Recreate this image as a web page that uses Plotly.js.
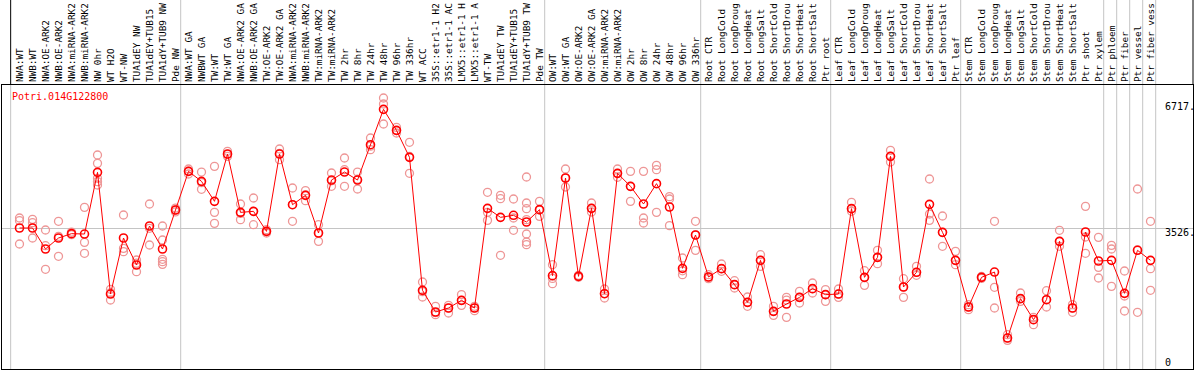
<!DOCTYPE html>
<html>
<head>
<meta charset="utf-8">
<script src="https://cdn.plot.ly/plotly-3.0.1.min.js"></script>
<style>
html,body{margin:0;padding:0;background:#fff;}
#chart{width:1194px;height:370px;}
</style>
</head>
<body>
<div id="chart"></div>
<script>
const geneName = "Potri.014G122800";

const categories = [
"NWA:WT","NWB:WT","NWA:OE-ARK2","NWB:OE-ARK2","NWA:miRNA-ARK2","NWB:miRNA-ARK2","NW 0hr","WT H2O","WT-NW","TUA1dEY NW","TUA1dEY+TUB15","TUA1dY+TUB9 NW","Pde NW",
"NWA:WT GA","NWBWT GA","TW:WT","TW:WT GA","NWA:OE-ARK2 GA","NWB:OE-ARK2 GA","TW:OE-ARK2","TW:OE-ARK2 GA","NWA:miRNA-ARK2","NWB:miRNA-ARK2","TW:miRNA-ARK2","TW:miRNA-ARK2",
"TW 2hr","TW 8hr","TW 24hr","TW 48hr","TW 96hr","TW 336hr","WT ACC","35S::etr1-1 H2","35S::etr1-1 AC","LMX5::etr1-1 H","LMX5::etr1-1 A","WT-TW","TUA1dEY TW","TUA1dEY+TUB15","TUA1dY+TUB9 TW","Pde TW",
"OW:WT","OW:WT GA","OW:OE-ARK2","OW:OE-ARK2 GA","OW:miRNA-ARK2","OW:miRNA-ARK2","OW 2hr","OW 8hr","OW 24hr","OW 48hr","OW 96hr","OW 336hr",
"Root CTR","Root LongCold","Root LongDroug","Root LongHeat","Root LongSalt","Root ShortCold","Root ShortDrou","Root ShortHeat","Root ShortSalt","Ptr root",
"Leaf CTR","Leaf LongCold","Leaf LongDroug","Leaf LongHeat","Leaf LongSalt","Leaf ShortCold","Leaf ShortDrou","Leaf ShortHeat","Leaf ShortSalt","Ptr leaf",
"Stem CTR","Stem LongCold","Stem LongDroug","Stem LongHeat","Stem LongSalt","Stem ShortCold","Stem ShortDrou","Stem ShortHeat","Stem ShortSalt","Ptr shoot","Ptr xylem",
"Ptr phloem","Ptr fiber","Ptr vessel","Ptr fiber vess"
];

const means = [
3526,3526,2974,3263,3377,3368,4991,1789,3263,2553,3579,2974,4000,
5017,4754,4228,5474,3938,3965,3438,5474,4140,4386,3395,4789,4999,4789,5719,6649,6096,5386,1886,1316,1421,1623,1421,4044,3807,3860,3684,4009,
2272,4842,2254,4044,1798,4965,4623,4158,4693,4079,2465,3342,
2237,2456,2035,1570,2675,1333,1526,1701,1930,1772,
1789,4035,2228,2754,5412,1974,2360,4149,3412,2675,
1447,2228,2368,631,1667,1114,1640,3175,1421,3421,2658,
2675,1807,2939,2675
];

const replicates = [
[3789,3718,3105],[3754,3666,3263],[3474,3061,2439],[3702,3305,2781],[3420,3360,3350],[4070,3149,2860],
[5447,5228,4834,4746,4658],[1913,1820,1632],[3868,2991,2904],[2684,2600,2377],[4158,3518,3079],
[3579,3211,2702,2640,2570],[4050,4000,3950],
[5079,5025,4947],[4999,4720,4544],[5149,3938,3649],[5544,5466,5412],[4158,3910,3746],[4316,3965,3614],
[3482,3438,3395],[5605,5490,5324],[4579,4140,3702],[4509,4400,4246],[3614,3395,3175],[4974,4770,4623],
[5368,5061,4623],[4999,4810,4553],[5895,5680,5588],[6947,6789,6263],[6175,6090,6026],[5781,5410,4965],
[2105,1850,1710],[1465,1300,1245],[1491,1420,1289],[1772,1620,1491],[1465,1420,1351],[4465,3938,3728],
[4386,4298,2807],[4289,3789,3465],[4868,4184,4035,3746,3368,3158,3088],[4228,4000,3833],
[2561,2200,2061],[5079,4842,4605],[2280,2254,2230],[4184,4044,3947],[1921,1800,1684],[5079,4960,4860],
[5017,4623,4228],[5017,3789,3658],[5175,5061,3938],[4351,4289,3588],[2737,2400,2298],[3702,3342,2938],
[2298,2237,2193],[2579,2456,2386],[2140,2035,1947],[1710,1570,1465],[2824,2675,2517],[1465,1333,1228],
[1701,1630,1175],[1860,1701,1552],[2079,1930,1816],[1904,1772,1596],
[1921,1789,1701],[4202,4035,3965],[2403,2228,2017],[2938,2754,2588],[5570,5412,5263],[2193,1974,1701],
[2517,2360,2281],[4816,3895,3728],[3842,3412,3044],[2912,2675,2561],
[1509,1447,1377],[2250,2228,2200],[3702,1965,1421],[719,631,570],[1816,1667,1596],[1175,1114,982],
[1877,1640,1447],[3465,3175,3044],[1509,1421,1307],[4096,3289,2860],[3280,2491,2210],
[3070,2974,1991],[2395,1737,1342],[4553,2950,1307],[3702,2456,1886]
];

// group boundaries: index of last category in each group
const groupEnds = [12,40,52,62,72,83,84,85,86,87];
const yLabelValues = [6717, 3526, 0];
const yLabelTexts = ["6717.", "3526.", "0"];
const gridValues = [3526];

const idx = categories.map((_, i) => i);
const repX = [], repY = [];
replicates.forEach((arr, i) => arr.forEach(v => { repX.push(i); repY.push(v); }));

const xmin = -1.346, xmax = 90.269;
const toPaper = v => (v - xmin) / (xmax - xmin);
const topY = 1 + 85 / 284;

const shapes = [];
groupEnds.forEach(e => {
  const px = toPaper(e + 0.4);
  shapes.push({type:'line', xref:'paper', yref:'paper', x0:px, x1:px, y0:0, y1:topY,
    line:{color:'#c4c4c4', width:1}, layer:'below'});
});
const lp = toPaper(-0.68);
shapes.push({type:'line', xref:'paper', yref:'paper', x0:lp, x1:lp, y0:0, y1:1,
  line:{color:'#c4c4c4', width:1}, layer:'below'});
shapes.push({type:'line', xref:'paper', yref:'paper', x0:lp, x1:lp, y0:1, y1:topY,
  line:{color:'#000', width:1}});
shapes.push({type:'line', xref:'paper', yref:'paper', x0:1, x1:1, y0:1, y1:topY,
  line:{color:'#000', width:1}});

const annotations = yLabelValues.map((v, k) => ({
  xref:'paper', yref:'y', x:(1163 - 2) / 1191, y:v, xanchor:'left', yanchor:'middle',
  yshift: v === 3526 ? -4 : 0,
  text:yLabelTexts[k], showarrow:false,
  font:{family:'DejaVu Sans Mono', size:10, color:'#000'}
}));
annotations.push({
  xref:'paper', yref:'paper', x:(9.7 - 2) / 1191, y:(369 - 96.7) / 284,
  xanchor:'left', yanchor:'middle', text:geneName, showarrow:false,
  font:{family:'DejaVu Sans Mono', size:10, color:'#ff0000'}
});

const traces = [
  {x:repX, y:repY, type:'scatter', mode:'markers', hoverinfo:'skip',
   marker:{symbol:'circle-open', size:8, color:'rgb(238,150,150)', line:{width:1.3}}},
  {x:idx, y:means, type:'scatter', mode:'lines+markers',
   line:{color:'#ff0000', width:1},
   marker:{symbol:'circle-open', size:8, color:'#ff0000', line:{width:1.6}}}
];

const layout = {
  width:1194, height:370,
  margin:{l:2, r:1, t:85, b:1, pad:0},
  paper_bgcolor:'#fff', plot_bgcolor:'#fff',
  showlegend:false,
  font:{family:'DejaVu Sans Mono', size:10, color:'#000'},
  xaxis:{
    range:[xmin, xmax], side:'top', tickmode:'array', tickvals:idx, ticktext:categories,
    tickangle:-90, ticks:'', ticklen:0, ticklabelstandoff:0, showgrid:false, zeroline:false,
    showline:true, mirror:true, linecolor:'#000', linewidth:1,
    tickfont:{family:'DejaVu Sans Mono', size:9.4, color:'#000'}, automargin:false
  },
  yaxis:{
    range:[-184.2, 7289.5], tickmode:'array', tickvals:gridValues, showticklabels:false,
    ticks:'', showgrid:true, gridcolor:'#c4c4c4', gridwidth:1, zeroline:false,
    showline:true, mirror:true, linecolor:'#000', linewidth:1, automargin:false
  },
  shapes:shapes,
  annotations:annotations
};

Plotly.newPlot('chart', traces, layout, {staticPlot:true, displayModeBar:false});
</script>
</body>
</html>
